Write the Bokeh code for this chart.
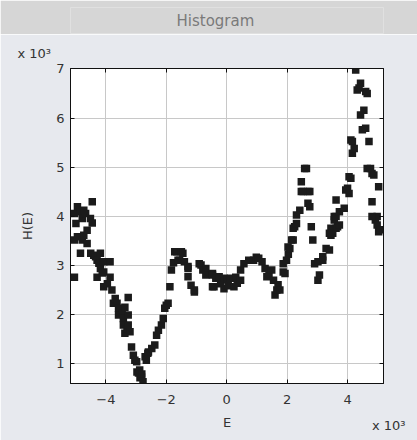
from bokeh.plotting import figure
from bokeh.layouts import column
from bokeh.models import (Range1d, LinearAxis, FixedTicker, Title, Label,
                          Grid, CustomLabelingPolicy)
from bokeh.embed import file_html
from bokeh.resources import INLINE

# ---- data (E and H(E), both in units of 10^3) ----
E = [-5.04, -5.04, -5.04, -4.99, -4.94, -4.94, -4.84, -4.84, -4.78, -4.78,
     -4.73, -4.73, -4.67, -4.62, -4.62, -4.51, -4.50, -4.45, -4.45, -4.40,
     -4.34, -4.29, -4.29, -4.23, -4.18, -4.18, -4.12, -4.07, -4.07, -4.07,
     -3.86, -3.86, -3.80, -3.95, -3.75, -3.69, -3.63, -3.58, -3.58, -3.46,
     -3.42, -3.42, -3.37, -3.37, -3.30, -3.26, -3.26, -3.26, -3.20, -3.15,
     -3.09, -3.04, -2.98, -2.97, -2.92, -2.88, -2.87, -2.82, -2.81, -2.77,
     -2.70, -2.66, -2.61, -2.59, -2.48, -2.38, -2.32, -2.26, -2.16, -2.10,
     -2.05, -2.00, -1.94, -1.88, -1.83, -1.76, -1.72, -1.65, -1.61, -1.56,
     -1.50, -1.45, -1.40, -1.28, -1.28, -1.28, -1.18, -1.07, -1.07, -0.91,
     -0.85, -0.79, -0.69, -0.69, -0.47, -0.47, -0.47, -0.42, -0.36, -0.25,
     -0.20, -0.09, -0.09, 0.02, 0.05, 0.13, 0.24, 0.30, 0.35, 0.46,
     0.46, 0.57, 0.73, 0.89, 0.98, 1.06, 1.17, 1.27, 1.33, 1.40,
     1.49, 1.55, 1.60, 1.66, 1.70, 1.76, 1.87, 1.87, 1.93, 1.98,
     2.03, 2.04, 2.09, 2.15, 2.20, 2.20, 2.25, 2.31, 2.31, 2.42,
     2.47, 2.47, 2.53, 2.58, 2.64, 2.69, 2.69, 2.75, 2.75, 2.80,
     2.85, 2.91, 3.02, 3.02, 3.07, 3.18, 3.18, 3.29, 3.40, 3.40,
     3.45, 3.45, 3.51, 3.56, 3.56, 3.62, 3.62, 3.62, 3.67, 3.73,
     3.73, 3.89, 3.94, 4.00, 4.05, 4.05, 4.11, 4.11, 4.16, 4.16,
     4.22, 4.27, 4.32, 4.38, 4.43, 4.43, 4.49, 4.54, 4.60, 4.60,
     4.65, 4.71, 4.65, 4.76, 4.81, 4.87, 4.92, 4.98, 4.98, 5.03,
     5.03, 5.09, 4.81, 4.81]

H = [4.05, 3.51, 2.75, 3.85, 4.19, 3.58, 4.09, 3.24, 3.51, 3.95,
     4.12, 3.61, 4.05, 3.71, 3.44, 3.95, 3.24, 4.29, 3.86, 3.20,
     3.17, 3.10, 2.75, 3.04, 3.24, 2.93, 2.84, 3.07, 2.86, 2.56,
     3.07, 2.75, 2.49, 2.62, 2.22, 2.32, 2.22, 2.12, 1.98, 2.02,
     1.91, 1.78, 2.14, 1.61, 1.70, 2.34, 1.98, 1.78, 1.64, 1.33,
     1.16, 1.06, 1.03, 0.82, 0.80, 0.86, 0.70, 0.72, 0.78, 0.62,
     1.13, 1.06, 1.20, 1.23, 1.30, 1.37, 1.57, 1.67, 1.78, 1.91,
     2.12, 2.18, 2.22, 2.56, 2.90, 3.05, 3.27, 3.27, 3.10, 3.10,
     3.27, 3.24, 3.07, 2.97, 2.93, 2.76, 2.59, 2.45, 2.49, 3.03,
     3.00, 2.90, 2.93, 2.80, 2.83, 2.80, 2.56, 2.56, 2.73, 2.76,
     2.62, 2.73, 2.52, 2.70, 2.58, 2.73, 2.56, 2.75, 2.63, 2.69,
     2.90, 3.03, 3.10, 3.10, 3.16, 3.14, 3.07, 2.93, 2.76, 2.82,
     2.90, 2.69, 2.39, 2.49, 2.60, 2.49, 3.03, 2.86, 2.83, 3.10,
     3.37, 3.22, 3.34, 3.51, 3.51, 3.75, 3.78, 3.85, 4.02, 4.12,
     4.50, 4.70, 4.50, 4.97, 4.97, 4.50, 4.26, 4.19, 4.50, 3.78,
     3.51, 3.03, 3.07, 2.69, 2.80, 3.17, 3.10, 3.34, 3.65, 3.31,
     3.61, 3.75, 3.65, 3.92, 3.99, 3.75, 3.99, 4.33, 3.78, 4.09,
     3.82, 4.16, 4.53, 4.57, 4.46, 4.80, 4.77, 5.55, 5.52, 5.28,
     5.38, 6.98, 6.57, 6.61, 6.71, 6.06, 5.76, 6.16, 5.79, 6.54,
     6.50, 5.52, 4.97, 4.97, 4.87, 4.84, 3.92, 3.99, 3.82, 3.68,
     4.60, 3.72, 4.29, 3.99]

X_TICKS = [-4, -2, 0, 2, 4]
Y_TICKS = [1, 2, 3, 4, 5, 6, 7]
X_RANGE = (-5.17, 5.19)
Y_RANGE = (0.585, 7.01)

TITLE = "Histogram"
X_LABEL = "E"
Y_LABEL = "H(E)"
MULT = "x 10\u00b3"

FONT = "DejaVu Sans"
BG = "#e7e9ee"
BAR_GRAY = "#d6d6d6"

W = 417
BAR_H = 34
HGT = 440 - BAR_H
BL, BR = 70, 34

# ---- window title bar (no data) ----
bar = figure(width=W, height=BAR_H, output_backend="svg",
             toolbar_location=None, title=None,
             x_range=Range1d(0, 1), y_range=Range1d(0, 1),
             min_border_left=BL, min_border_right=BR,
             min_border_top=7, min_border_bottom=1,
             x_axis_location=None, y_axis_location=None)
bar.xgrid.visible = False
bar.ygrid.visible = False
bar.border_fill_color = BAR_GRAY
bar.background_fill_color = BAR_GRAY
bar.outline_line_color = None
bar.add_layout(Label(x=0.463, y=0.48, text=TITLE, text_align="center",
                     text_baseline="middle", text_font=FONT,
                     text_font_size="15px", text_color="#7a7a7a"))

# ---- main plot ----
BT, BB = 68 - BAR_H, 57

p = figure(width=W, height=HGT, output_backend="svg", toolbar_location=None,
           title=None,
           x_range=Range1d(*X_RANGE), y_range=Range1d(*Y_RANGE),
           min_border_left=BL, min_border_right=BR,
           min_border_top=BT, min_border_bottom=BB,
           x_axis_location=None, y_axis_location=None)
p.border_fill_color = BG
p.background_fill_color = "white"
p.outline_line_color = "#000000"
p.outline_line_width = 1

hide_labels = CustomLabelingPolicy(code="""
for (const i of indices) { indices.unset(i) }
return indices
""")

def style_axis(ax, labels=True):
    ax.major_tick_in = 4
    ax.major_tick_out = 0
    ax.minor_tick_line_color = None
    ax.major_tick_line_color = "#111111"
    ax.axis_line_color = "#111111"
    ax.major_label_text_font = FONT
    ax.major_label_text_font_size = "13px" if labels else "1px"
    ax.major_label_text_color = "#333333"
    ax.axis_label_text_font = FONT
    ax.axis_label_text_font_style = "normal"
    ax.axis_label_text_font_size = "13px"
    ax.axis_label_text_color = "#333333"
    if not labels:
        ax.major_label_policy = hide_labels
        ax.major_label_standoff = 0

xb = LinearAxis(ticker=FixedTicker(ticks=X_TICKS), axis_label=X_LABEL)
style_axis(xb)
xb.major_label_standoff = 11
xb.axis_label_standoff = 8
p.add_layout(xb, "below")

yl = LinearAxis(ticker=FixedTicker(ticks=Y_TICKS), axis_label=Y_LABEL)
style_axis(yl)
yl.major_label_standoff = 6
yl.axis_label_standoff = 18
p.add_layout(yl, "left")

xt = LinearAxis(ticker=FixedTicker(ticks=X_TICKS))
style_axis(xt, labels=False)
p.add_layout(xt, "above")

yr = LinearAxis(ticker=FixedTicker(ticks=Y_TICKS))
style_axis(yr, labels=False)
p.add_layout(yr, "right")

p.add_layout(Grid(dimension=0, ticker=FixedTicker(ticks=X_TICKS),
                  grid_line_color="#c8c8c8", grid_line_width=1))
p.add_layout(Grid(dimension=1, ticker=FixedTicker(ticks=Y_TICKS),
                  grid_line_color="#c8c8c8", grid_line_width=1))

p.scatter(E, H, marker="square", size=7.5, fill_color="#1b1b1b",
          line_color=None)

# ---- axis multipliers ----
p.add_layout(Title(text=MULT, align="left", offset=-53, standoff=8,
                   text_font=FONT, text_font_style="normal",
                   text_font_size="13px", text_color="#333333"), "above")
p.add_layout(Title(text=MULT, align="right", vertical_align="top",
                   offset=-22, standoff=-30,
                   text_font=FONT, text_font_style="normal",
                   text_font_size="13px", text_color="#333333"), "below")

layout = column(bar, p, spacing=0)
open("out.html", "w").write(file_html(layout, INLINE))
